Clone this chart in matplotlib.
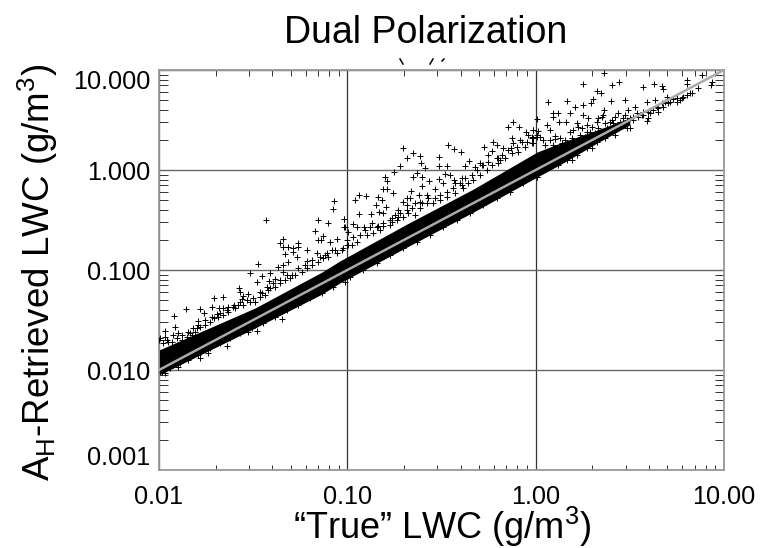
import matplotlib
matplotlib.use("Agg")
import matplotlib.pyplot as plt
import matplotlib.ticker as mticker
import numpy as np
from matplotlib.lines import Line2D

plt.rcParams['font.family'] = ['Liberation Sans', 'DejaVu Sans']
plt.rcParams['mathtext.fontset'] = 'custom'
plt.rcParams['mathtext.rm'] = 'Liberation Sans'
plt.rcParams['mathtext.default'] = 'regular'

title = "Dual Polarization"
xlabel = "\u201cTrue\u201d LWC (g/m$^3$)"
ylabel = "A$_H$-Retrieved LWC (g/m$^3$)"
x_ticks = [0.01, 0.1, 1.0, 10.0]
x_tick_labels = ["0.01", "0.10", "1.00", "10.00"]
y_ticks = [0.001, 0.01, 0.1, 1.0, 10.0]
y_tick_labels = ["0.001", "0.010", "0.100", "1.000", "10.000"]

# Dense core of the cloud, read as an envelope (log10 g/m3)
band_logx = [-2.0, -1.49, -1.134, -1.04, -0.683, -0.33, 0.008, 0.145, 0.326, 0.50]
band_logy_upper = [-1.80, -1.38, -1.02, -0.91, -0.54, -0.19, 0.18, 0.28, 0.40, 0.52]
band_logy_lower = [-2.05, -1.58, -1.24, -1.13, -0.77, -0.42, -0.07, 0.07, 0.27, 0.45]

# Individually readable points (log10 g/m3)
scatter_logx = [
 -1.433,-1.071,-1.076,-1.017,-1.154,-1.101,-1.016,-1.171,-1.127,-0.998,-1.157,-1.141,-1.094,-1.056,-1.341,-1.357,-1.263,
 -1.340,-1.313,-1.288,-1.260,-1.290,-1.216,-1.331,-1.269,-1.163,-1.083,-1.118,-1.317,-1.216,-1.472,-1.340,-1.370,-1.515,
 -1.412,-1.455,-1.340,-1.384,-1.417,-1.481,-1.573,-1.568,-1.529,-1.556,-1.557,-1.463,-1.428,-1.706,-1.660,-1.718,-1.681,
 -1.658,-1.635,-1.600,-1.858,-1.782,-1.763,-1.920,-1.692,-1.791,-1.913,-1.968,-1.897,-1.835,-1.800,-1.994,-1.950,
 -1.640,-1.738,-1.782,-1.897,-1.968,-1.348,-1.481,-1.525,
 -0.706,-0.650,-0.614,-0.685,-0.464,-0.432,-0.398,-0.513,-0.273,-0.228,-0.207,-0.234,-0.145,-0.119,-0.087,-0.051,-0.127,
 -0.083,-0.172,-0.133,-0.012,-0.251,-0.719,-0.750,-0.611,-0.586,-0.513,-0.469,-0.352,-0.375,-0.296,-0.322,-0.202,-0.632,
 -0.650,-0.802,-0.788,-0.605,-0.565,-0.513,-0.481,-0.455,-0.434,-0.393,-0.490,-0.535,-0.605,-0.664,-0.809,-0.788,-0.756,
 -0.938,-0.903,-0.958,-0.835,-0.814,-0.685,-0.667,-0.706,-0.618,-0.575,-0.850,-0.797,-0.940,-0.873,-0.830,-0.809,-0.729,
 -1.018,-1.014,-0.972,-0.947,-0.912,-0.835,-0.809,-0.765,-0.871,
 0.365,0.253,0.404,0.441,0.568,0.628,0.669,0.678,0.805,0.802,0.935,0.931,0.882,0.864,0.828,0.324,0.345,0.067,0.165,0.306,
 0.294,0.253,0.209,0.398,0.473,0.589,0.634,0.528,0.182,0.094,0.120,0.094,0.009,0.253,0.363,0.439,0.492,0.359,0.589,0.126,
 0.161,0.280,-0.016,0.014,0.058,0.076,0.023,0.103,0.218,0.324,0.404,0.466,0.696,0.749,0.775,0.802,0.687,0.651,0.572,0.519,
 0.191,0.297,0.377,0.483,0.651,
 # upper fringe, low end
 -2.000,-1.977,-1.959,-1.933,-1.906,-1.879,-1.853,-1.826,-1.809,-1.782,-1.756,-1.729,-1.706,-1.685,-1.658,-1.632,-1.596,
 -1.579,-1.552,-1.517,-1.490,-1.464,-1.437,-1.410,-1.384,-1.357,-1.331,-1.304,-1.278,-1.242,-1.216,-1.189,-1.154,-1.127,
 -1.101,-1.056,-1.030,-0.977,
 # second upper row, low end
 -1.968,-1.924,-1.879,-1.844,-1.817,-1.791,-1.756,-1.720,-1.676,-1.640,-1.605,-1.570,-1.534,-1.499,-1.455,-1.419,-1.393,
 -1.357,-1.322,-1.295,-1.260,-1.225,-1.189,-1.145,-1.110,-1.065,-1.003,
 # lower fringe, low end
 -1.986,-1.941,-1.888,-1.844,-1.791,-1.729,-1.676,-1.623,-1.570,-1.508,-1.446,-1.384,-1.322,-1.260,-1.198,-1.136,-1.074,-1.012,
 # upper fringe, middle
 -1.021,-0.995,-0.950,-0.897,-0.862,-0.827,-0.773,-0.738,-0.703,-0.676,-0.641,-0.614,-0.579,-0.543,-0.508,-0.473,-0.428,
 -0.384,-0.358,-0.331,-0.296,-0.260,-0.234,-0.198,-0.163,-0.127,-0.092,-0.057,-0.021,0.005,-0.685,-0.614,-0.729,-0.765,
 -0.428,-0.393,-0.278,-0.189,-0.101,-0.048,-0.021,
 # second upper row, middle
 -1.004,-0.968,-0.933,-0.906,-0.880,-0.844,-0.809,-0.773,-0.747,-0.720,-0.685,-0.658,-0.641,-0.605,-0.570,-0.535,-0.508,
 -0.473,-0.437,-0.402,-0.375,-0.340,-0.313,-0.287,-0.251,-0.207,-0.181,-0.145,-0.119,-0.074,-0.039,-0.012,
 # lower fringe, middle
 -0.986,-0.915,-0.844,-0.773,-0.703,-0.632,-0.561,-0.490,-0.420,-0.349,-0.278,-0.207,-0.136,-0.066,0.005,
 # upper fringe, high end
 -0.021,0.005,0.041,0.076,0.103,0.129,0.156,0.182,0.200,0.227,0.244,0.271,0.297,0.333,0.351,0.368,0.395,0.421,0.448,0.474,
 0.501,0.536,0.563,0.598,0.625,0.669,0.705,0.731,0.784,0.289,0.315,0.236,0.262,0.377,0.430,0.466,0.519,0.572,
 # second upper row, high end
 -0.012,0.050,0.094,0.138,0.191,0.271,0.333,0.412,0.483,0.545,0.607,0.643,0.713,0.766,
 # lower fringe, high end
 0.005,0.058,0.120,0.165,0.218,0.271,0.324,0.368,0.421,0.501,0.598,0.678,0.749,0.820,
]
scatter_logy = [
 -0.503,-0.31,-0.39,-0.487,-0.50,-0.53,-0.573,-0.613,-0.66,-0.623,-0.703,-0.70,-0.717,-0.69,-0.693,-0.733,-0.727,
 -0.77,-0.767,-0.777,-0.773,-0.817,-0.80,-0.837,-0.873,-0.827,-0.80,-0.85,-0.917,-0.907,-0.943,-0.95,-0.973,-1.03,
 -1.03,-1.057,-1.017,-1.087,-1.107,-1.123,-1.177,-1.223,-1.24,-1.26,-1.293,-1.217,-1.173,-1.277,-1.273,-1.373,-1.377,
 -1.377,-1.373,-1.35,-1.387,-1.393,-1.433,-1.457,-1.437,-1.51,-1.567,-1.61,-1.63,-1.633,-1.583,-1.677,-1.717,
 -1.76,-1.833,-1.883,-1.967,-2.033,-1.493,-1.607,-1.617,
 0.22,0.17,0.143,0.123,0.247,0.207,0.18,0.13,0.23,0.28,0.247,0.193,0.433,0.483,0.433,0.383,0.317,
 0.30,0.22,0.217,0.40,0.15,0.037,-0.023,0.067,0.023,0.043,0.04,0.087,0.043,0.073,0.033,0.117,-0.033,
 -0.073,-0.07,-0.11,-0.067,-0.11,-0.09,-0.04,-0.05,-0.10,-0.083,-0.133,-0.19,-0.16,-0.213,-0.193,-0.193,-0.227,
 -0.25,-0.257,-0.303,-0.273,-0.30,-0.283,-0.283,-0.317,-0.25,-0.25,-0.35,-0.367,-0.443,-0.437,-0.417,-0.433,-0.40,
 -0.487,-0.573,-0.543,-0.567,-0.567,-0.56,-0.56,-0.483,-0.533,
 0.973,0.863,0.85,0.88,0.83,0.863,0.84,0.807,0.90,0.857,0.883,0.85,0.95,0.817,0.767,0.79,0.767,0.677,0.687,0.707,
 0.667,0.65,0.627,0.687,0.70,0.683,0.70,0.633,0.573,0.567,0.567,0.527,0.507,0.55,0.60,0.567,0.60,0.55,0.49,0.477,
 0.483,0.517,0.40,0.393,0.45,0.40,0.333,0.34,0.467,0.483,0.50,0.517,0.733,0.717,0.717,0.75,0.683,0.617,0.55,0.50,
 0.10,0.217,0.35,0.417,0.583,
 # upper fringe, low end
 -1.70,-1.733,-1.70,-1.717,-1.683,-1.70,-1.667,-1.65,-1.617,-1.567,-1.55,-1.517,-1.483,-1.467,-1.45,-1.417,-1.383,
 -1.35,-1.35,-1.317,-1.317,-1.267,-1.25,-1.183,-1.167,-1.133,-1.10,-1.083,-1.05,-1.017,-0.983,-0.95,-0.917,-0.883,
 -0.867,-0.833,-0.80,-0.75,
 # second upper row, low end
 -1.667,-1.65,-1.65,-1.617,-1.583,-1.55,-1.50,-1.467,-1.433,-1.40,-1.367,-1.317,-1.30,-1.283,-1.233,-1.20,-1.133,
 -1.10,-1.05,-1.05,-0.983,-0.95,-0.90,-0.867,-0.833,-0.80,-0.75,
 # lower fringe, low end
 -2.017,-1.983,-1.933,-1.90,-1.85,-1.783,-1.733,-1.683,-1.633,-1.583,-1.527,-1.467,-1.40,-1.35,-1.283,-1.233,-1.173,-1.117,
 # upper fringe, middle
 -0.783,-0.75,-0.717,-0.65,-0.633,-0.60,-0.55,-0.50,-0.467,-0.433,-0.45,-0.383,-0.333,-0.333,-0.30,-0.267,-0.233,
 -0.183,-0.133,-0.10,-0.05,0.0,0.05,0.067,0.117,0.167,0.183,0.233,0.267,0.333,-0.35,-0.317,-0.467,-0.517,
 -0.133,-0.15,0.05,0.10,0.233,0.283,0.333,
 # second upper row, middle
 -0.70,-0.667,-0.65,-0.60,-0.567,-0.567,-0.533,-0.50,-0.45,-0.433,-0.40,-0.383,-0.333,-0.333,-0.283,-0.283,-0.25,
 -0.217,-0.183,-0.133,-0.083,-0.05,0.0,0.05,0.083,0.117,0.15,0.20,0.267,0.283,0.35,0.317,
 # lower fringe, middle
 -1.067,-1.0,-0.933,-0.85,-0.783,-0.717,-0.65,-0.567,-0.50,-0.433,-0.35,-0.283,-0.217,-0.133,-0.067,
 # upper fringe, high end
 0.317,0.35,0.30,0.30,0.307,0.317,0.30,0.383,0.40,0.433,0.417,0.45,0.433,0.517,0.533,0.467,0.483,0.533,0.483,0.55,
 0.517,0.567,0.55,0.583,0.60,0.667,0.667,0.707,0.727,0.383,0.367,0.35,0.333,0.417,0.45,0.45,0.533,0.583,
 # second upper row, high end
 0.267,0.25,0.25,0.267,0.317,0.383,0.417,0.467,0.50,0.533,0.567,0.633,0.683,0.70,
 # lower fringe, high end
 -0.067,0.017,0.05,0.10,0.15,0.217,0.283,0.317,0.35,0.417,0.517,0.633,0.683,0.767,
]
# One-to-one reference line
ref_line_x = [0.01, 10.0]
ref_line_y = [0.01, 10.0]

W, H = 772, 548
fig = plt.figure(figsize=(W/100, H/100), dpi=100, facecolor='white')
ax = fig.add_axes([159/W, 1-470/H, (724-159)/W, 400/H])
ax.set_xscale('log'); ax.set_yscale('log')
ax.set_xlim(0.01, 10); ax.set_ylim(0.001, 10)

ax.xaxis.grid(True, which='major', color='#333333', lw=0.9, zorder=1)
ax.yaxis.grid(True, which='major', color='#666666', lw=1.0, zorder=1)
ax.set_axisbelow(True)
ax.set_xticks(x_ticks); ax.set_xticklabels(x_tick_labels)
ax.set_yticks(y_ticks); ax.set_yticklabels(y_tick_labels)
ax.tick_params(which='major', length=0, labelsize=18.2, pad=6, colors='black')
ax.tick_params(axis='x', which='major', pad=10.5)
ax.tick_params(axis='x', which='minor', direction='in', length=5.5*0.72, width=0.7, top=True, bottom=True, color='#333333', labelbottom=False)
ax.tick_params(axis='y', which='minor', direction='in', length=9*0.72, width=0.7, left=True, right=True, color='#333333', labelleft=False)
ax.xaxis.set_minor_locator(mticker.LogLocator(base=10, subs=range(2, 10), numticks=10))
ax.yaxis.set_minor_locator(mticker.LogLocator(base=10, subs=range(2, 10), numticks=10))
ax.xaxis.set_minor_formatter(mticker.NullFormatter())
ax.yaxis.set_minor_formatter(mticker.NullFormatter())
for s in ax.spines.values():
    s.set_color('#999999'); s.set_linewidth(1.3)
# The end labels sit inside the frame's height, as in the reference
ylabs = ax.get_yticklabels()
ylabs[0].set_va('bottom')
ylabs[-1].set_va('top')

bx = 10.0**np.array(band_logx)
ax.fill_between(bx, 10.0**np.array(band_logy_lower), 10.0**np.array(band_logy_upper), color='black', lw=0, zorder=2)
ax.plot(10.0**np.array(scatter_logx), 10.0**np.array(scatter_logy), ls='none', marker='+', ms=3.8, mew=0.7, color='black', zorder=3)
ax.plot(ref_line_x, ref_line_y, color='#aaaaaa', lw=1.8, zorder=4)

fig.text(426/W, 1-33/H, title, ha='center', va='center', fontsize=27)
fig.text(442/W, 1-527/H, xlabel, ha='center', va='center', fontsize=26)
fig.text(38/W, 1-272/H, ylabel, ha='center', va='center', rotation=90, fontsize=26.5)

# Tips of a clipped sub-title above the frame
for (x0, y0, x1, y1) in [(400, 59, 403, 64), (430, 64, 433, 59), (442, 61, 444, 59)]:
    fig.add_artist(Line2D([x0/W, x1/W], [1-y0/H, 1-y1/H], color='black', lw=1.1))

fig.savefig('out.png', dpi=100)
